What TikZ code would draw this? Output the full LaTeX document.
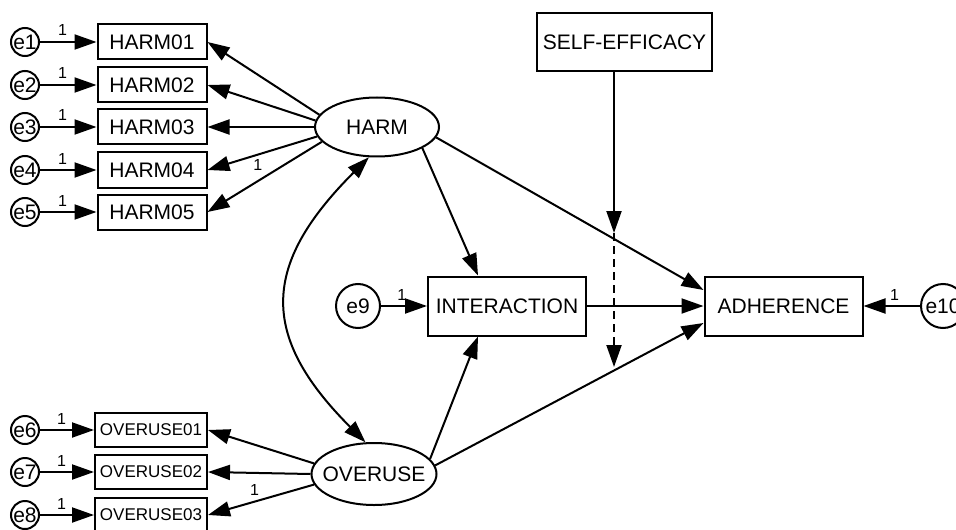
\documentclass[tikz,border=0pt]{standalone}
\usepackage{fontspec}
\setmainfont{Liberation Sans}
\usetikzlibrary{positioning, shapes.geometric, arrows.meta}

\begin{document}
\begin{tikzpicture}[x=0.5pt, y=-0.5pt, line width=1pt, >={Triangle[length=11pt, width=7.5pt]},
  ind/.style={draw, rectangle, inner sep=0pt, minimum width=54.5pt, minimum height=17.5pt, font=\fontsize{10.5}{12}\selectfont},
  indsmall/.style={ind, minimum width=56pt, minimum height=17pt, font=\fontsize{8.5}{10}\selectfont},
  construct/.style={draw, rectangle, inner sep=0pt, minimum width=79pt, minimum height=29.5pt, font=\fontsize{10.5}{12}\selectfont},
  latent/.style={draw, ellipse, inner sep=0pt, inner xsep=-8pt, minimum width=62pt, minimum height=29.5pt, font=\fontsize{10.5}{12}\selectfont},
  err/.style={draw, circle, inner sep=0pt, minimum size=14pt, font=\fontsize{10.5}{12}\selectfont},
  bigerr/.style={err, minimum size=22pt},
  one/.style={inner sep=1pt, font=\fontsize{8}{9}\selectfont},
]
  \useasboundingbox (0,0) rectangle (956,529);
  \clip (0,0) rectangle (956,529);

  % latent variables
  \node[latent] (harm) at (377,127) {HARM};
  \node[latent, minimum width=62.5pt, minimum height=31pt] (overuse) at (374,474) {OVERUSE};

  % HARM indicators
  \node[ind] (h1) at (152,42) {HARM01};
  \node[ind] (h2) at (152,85) {HARM02};
  \node[ind] (h3) at (152,127) {HARM03};
  \node[ind] (h4) at (152,170) {HARM04};
  \node[ind] (h5) at (152,212) {HARM05};
  \node[err] (e1) at (25,42) {e1};
  \node[err] (e2) at (25,85) {e2};
  \node[err] (e3) at (25,127) {e3};
  \node[err] (e4) at (25,170) {e4};
  \node[err] (e5) at (25,212) {e5};

  % OVERUSE indicators
  \node[indsmall] (o1) at (151,430) {OVERUSE01};
  \node[indsmall] (o2) at (151,472) {OVERUSE02};
  \node[indsmall] (o3) at (151,515) {OVERUSE03};
  \node[err] (e6) at (25,430) {e6};
  \node[err] (e7) at (25,472) {e7};
  \node[err] (e8) at (25,515) {e8};

  % structural part
  \node[construct] (inter) at (507,306) {INTERACTION};
  \node[construct] (adh) at (783.5,306) {ADHERENCE};
  \node[construct, minimum width=87.5pt, minimum height=29pt] (selfeff) at (624.5,42) {SELF-EFFICACY};
  \node[bigerr] (e9) at (358,306) {e9};
  \node[bigerr] (e10) at (943,306) {e10};
  \coordinate (mod) at (614,233);
  \coordinate (modend) at (614,367);

  % error terms
  \draw[->] (e1) -- node[one, above=1.5pt, pos=0.4] {1} (h1);
  \draw[->] (e2) -- node[one, above=1.5pt, pos=0.4] {1} (h2);
  \draw[->] (e3) -- node[one, above=1.5pt, pos=0.4] {1} (h3);
  \draw[->] (e4) -- node[one, above=1.5pt, pos=0.4] {1} (h4);
  \draw[->] (e5) -- node[one, above=1.5pt, pos=0.4] {1} (h5);
  \draw[->] (e6) -- node[one, above=1.5pt, pos=0.4] {1} (o1);
  \draw[->] (e7) -- node[one, above=1.5pt, pos=0.4] {1} (o2);
  \draw[->] (e8) -- node[one, above=1.5pt, pos=0.4] {1} (o3);
  \draw[->] (e9) -- node[one, above=1.5pt, pos=0.45] {1} (inter);
  \draw[->] (e10) -- node[one, above=1.5pt, pos=0.45] {1} (adh);

  % loadings
  \draw[->] (harm.168) -- (h1.east);
  \draw[->] (harm.174) -- (h2.east);
  \draw[->] (harm.west) -- (h3.east);
  \draw[->] (harm.189) -- node[one, below=1pt, pos=0.54] {1} (h4.east);
  \draw[->] (harm.195) -- (h5.east);
  \draw[->] (overuse.170) -- (o1.east);
  \draw[->] (overuse.west) -- (o2.east);
  \draw[->] (overuse.190) -- node[one, above=1.5pt, pos=0.56] {1} (o3.east);

  % paths
  \draw[<->] (harm.-105) .. controls +(-107,107) and +(-107,-107) .. (overuse.105);
  \draw[->] (harm.-25) -- ([xshift=-14.5pt]inter.north);
  \draw[->] (overuse.15) -- ([xshift=-14.5pt]inter.south);
  \draw[->] (harm.-10) -- ([yshift=8pt]adh.west);
  \draw[->] (overuse.8) -- ([yshift=-8.5pt]adh.west);
  \draw[->] (inter.east) -- (adh.west);
  \draw[->] (mod |- selfeff.south) -- (mod);
  \draw[->, dash pattern=on 4pt off 2.5pt] (mod) -- (modend);
\end{tikzpicture}
\end{document}
